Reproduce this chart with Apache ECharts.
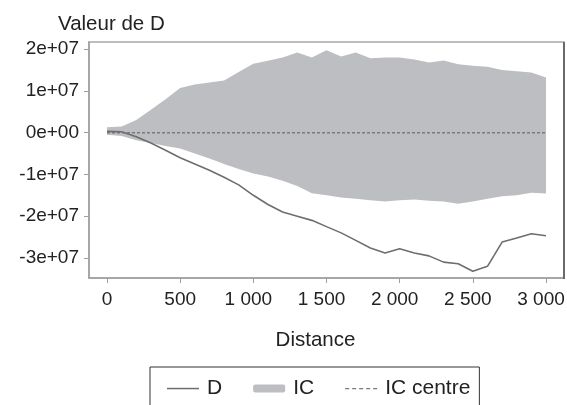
<!DOCTYPE html>
<html><head><meta charset="utf-8">
<script src="https://cdn.jsdelivr.net/npm/echarts@6/dist/echarts.min.js"></script>
<style>html,body{margin:0;padding:0;background:#fff}#c{width:567px;height:405px}</style>
</head><body><div id="c"></div>
<script>
const distances = [0,100,200,300,400,500,600,700,800,900,1000,1100,1200,1300,1400,1500,1600,1700,1800,1900,2000,2100,2200,2300,2400,2500,2600,2700,2800,2900,3000];
const dValues = [0.03e7,0.02e7,-0.1e7,-0.25e7,-0.42e7,-0.6e7,-0.75e7,-0.9e7,-1.07e7,-1.25e7,-1.5e7,-1.72e7,-1.9e7,-2.0e7,-2.1e7,-2.25e7,-2.4e7,-2.58e7,-2.76e7,-2.88e7,-2.78e7,-2.88e7,-2.95e7,-3.1e7,-3.14e7,-3.32e7,-3.2e7,-2.62e7,-2.52e7,-2.42e7,-2.47e7];
const icUpper = [0.13e7,0.15e7,0.3e7,0.55e7,0.8e7,1.07e7,1.15e7,1.2e7,1.25e7,1.45e7,1.65e7,1.72e7,1.8e7,1.92e7,1.8e7,1.97e7,1.82e7,1.92e7,1.78e7,1.8e7,1.8e7,1.75e7,1.68e7,1.73e7,1.64e7,1.6e7,1.58e7,1.5e7,1.47e7,1.44e7,1.32e7];
const icLower = [-0.05e7,-0.08e7,-0.18e7,-0.25e7,-0.32e7,-0.38e7,-0.5e7,-0.62e7,-0.75e7,-0.87e7,-0.98e7,-1.05e7,-1.15e7,-1.28e7,-1.45e7,-1.5e7,-1.55e7,-1.58e7,-1.62e7,-1.65e7,-1.62e7,-1.6e7,-1.63e7,-1.65e7,-1.7e7,-1.65e7,-1.58e7,-1.52e7,-1.5e7,-1.44e7,-1.46e7];
const icCentre = [0,0,0,0,0,0,0,0,0,0,0,0,0,0,0,0,0,0,0,0,0,0,0,0,0,0,0,0,0,0,0];
const xTicks = [0,500,1000,1500,2000,2500,3000];
const yTicks = [-3e7,-2e7,-1e7,0,1e7,2e7];

const FONT = 'Liberation Sans';
const pairs = arr => distances.map((d,i)=>[d, arr[i]]);
const yFmt = v => { if (v === 0) return '0e+00'; const s = v.toExponential(0); return s.replace(/e([+-])(\d)$/, 'e$10$2'); };
const xFmt = v => v >= 1000 ? '{k|' + Math.floor(v/1000) + ' ' + String(v%1000).padStart(3,'0') + '}' : String(v);

const lineIcon = 'path://M0,0 M0,3.3h32v1.5h-32z M32,8';
const dashIcon = 'path://M0,0 M0,3.4h4v1.3h-4z M7,3.4h4v1.3h-4z M14,3.4h4v1.3h-4z M21,3.4h4v1.3h-4z M28,3.4h4v1.3h-4z M32,8';

const chart = echarts.init(document.getElementById('c'), null, {renderer:'canvas'});
chart.setOption({
  animation:false,
  textStyle:{fontFamily:FONT},
  title:{text:'Valeur de D', left:53, top:9, textStyle:{fontFamily:FONT,fontSize:20.5,fontWeight:'normal',color:'#222'}},
  grid:{left:89, top:42, right:3, bottom:127, show:true, borderColor:'#a8a8a8', borderWidth:1.5, outerBoundsMode:'none', containLabel:false},
  xAxis:{type:'value', min:-123, max:3123, name:'Distance', nameLocation:'middle', nameGap:52,
    nameTextStyle:{fontFamily:FONT,fontSize:20.5,color:'#222',padding:[0,22,0,0]},
    axisLine:{show:true,onZero:false,lineStyle:{color:'#a0a0a0',width:1.5}},
    axisTick:{show:true,length:5,customValues:xTicks,lineStyle:{color:'#a0a0a0'}},
    axisLabel:{customValues:xTicks,formatter:xFmt,fontFamily:FONT,fontSize:19,color:'#222',margin:12,
      rich:{k:{fontFamily:FONT,fontSize:19,color:'#222',padding:[0,10,0,0]}}},
    splitLine:{show:false}},
  yAxis:{type:'value', min:-3.48e7, max:2.17e7,
    axisLine:{show:true,onZero:false,lineStyle:{color:'#a0a0a0',width:1.5}},
    axisTick:{show:true,length:5,customValues:yTicks,lineStyle:{color:'#a0a0a0'}},
    axisLabel:{customValues:yTicks,formatter:yFmt,fontFamily:FONT,fontSize:19,color:'#222',margin:10},
    splitLine:{show:false}},
  legend:{left:150, top:367, orient:'horizontal', itemWidth:32, itemHeight:8, itemGap:31,
    padding:[11,9,30,17], borderColor:'#333', borderWidth:1,
    textStyle:{fontFamily:FONT,fontSize:21,color:'#222',padding:[0,0,0,3]},
    data:[{name:'D',icon:lineIcon},{name:'IC',icon:'roundRect'},{name:'IC centre',icon:dashIcon}]},
  graphic:[{type:'rect',shape:{x:563,y:42,width:2,height:237},style:{fill:'#6a6a6a'},z:10}],
  series:[
    {name:'IC', type:'custom', silent:true, z:1,
     itemStyle:{color:'#bdbec1'},
     encode:{x:0, y:[1,2]},
     data: distances.map((d,i)=>[d, icLower[i], icUpper[i]]),
     renderItem:(params, api)=>{
       if (params.dataIndex !== 0) return null;
       const pts = [];
       for (let i=0;i<distances.length;i++) pts.push(api.coord([distances[i], icUpper[i]]));
       for (let i=distances.length-1;i>=0;i--) pts.push(api.coord([distances[i], icLower[i]]));
       return {type:'polygon', shape:{points:pts}, style:{fill:'#bdbec1'}};
     }},
    {name:'IC centre', type:'line', data:pairs(icCentre), symbol:'none',
     itemStyle:{color:'#7a7a7a'}, lineStyle:{color:'#7a7a7a', width:1.5, type:[3,2]}, z:3},
    {name:'D', type:'line', data:pairs(dValues), symbol:'none',
     itemStyle:{color:'#6e6e6e'}, lineStyle:{color:'#6e6e6e', width:1.6}, z:4}
  ]
});
</script></body></html>
